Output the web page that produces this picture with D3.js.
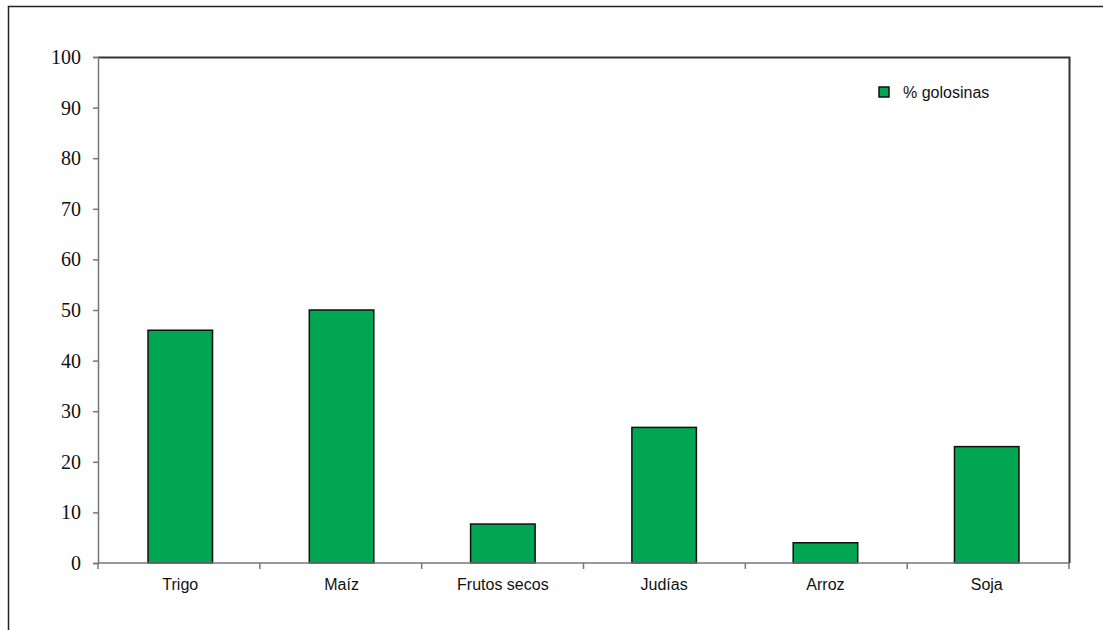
<!DOCTYPE html>
<html>
<head>
<meta charset="utf-8">
<script src="https://cdn.jsdelivr.net/npm/d3@7"></script>
<style>
  body { margin: 0; background: #fff; }
  svg { display: block; }
</style>
</head>
<body>
<svg width="1103" height="630"></svg>
<script>
// Bar chart: % golosinas per crop

var categories = ['Trigo', 'Maíz', 'Frutos secos', 'Judías', 'Arroz', 'Soja']
var values = [46, 50, 7.7, 26.8, 4, 23]
var yTicks = [0, 10, 20, 30, 40, 50, 60, 70, 80, 90, 100]
var seriesName = '% golosinas'

var svg = d3.select('svg')
// note: "top" is a window global, so use other names
var plotLeft = 98, plotRight = 1069, plotTop = 57, plotBottom = 563
var barColor = '#00a651'

// outer frame (only top and left edges visible)
svg.append('path')
	.attr('d', 'M8.5,630 V6.5 H1103')
	.attr('fill', 'none')
	.attr('stroke', '#222')
	.attr('stroke-width', 1.5)

var x = d3.scaleBand()
	.domain(categories)
	.range([plotLeft, plotRight])
	.paddingInner(0.6)
	.paddingOuter(0.31)

var y = d3.scaleLinear()
	.domain([0, 100])
	.range([plotBottom, plotTop])

// plot frame top + right
svg.append('path')
	.attr('d', 'M' + plotLeft + ',' + (plotTop + 0.5) + ' H' + (plotRight + 0.5) + ' V' + plotBottom)
	.attr('fill', 'none')
	.attr('stroke', '#333')
	.attr('stroke-width', 2)

// bars
svg.append('g')
	.selectAll('rect')
	.data(values)
	.enter()
	.append('rect')
	.attr('x', function(d, i) { return x(categories[i]) })
	.attr('y', function(d) { return y(d) })
	.attr('width', x.bandwidth())
	.attr('height', function(d) { return plotBottom - y(d) })
	.attr('fill', barColor)
	.attr('stroke', '#111')
	.attr('stroke-width', 1.5)

// y axis
var yAxis = svg.append('g')
	.attr('transform', 'translate(' + plotLeft + ',0)')
	.call(d3.axisLeft(y).tickValues(yTicks).tickSize(5).tickPadding(12))
yAxis.select('.domain').attr('stroke', '#777').attr('stroke-width', 1.5)
yAxis.selectAll('.tick line').attr('stroke', '#777').attr('stroke-width', 1.5)
yAxis.selectAll('.tick text')
	.attr('font-family', '"Liberation Serif", "Times New Roman", serif')
	.attr('font-size', 20)
	.attr('fill', '#111')

// x axis: ticks at category boundaries
var xAxis = svg.append('g')
	.attr('transform', 'translate(0,' + plotBottom + ')')
xAxis.append('line')
	.attr('x1', plotLeft).attr('x2', plotRight)
	.attr('stroke', '#777').attr('stroke-width', 1.5)
xAxis.selectAll('.bound')
	.data(d3.range(categories.length + 1))
	.enter()
	.append('line')
	.attr('x1', function(i) { return plotLeft + i * (plotRight - plotLeft) / categories.length })
	.attr('x2', function(i) { return plotLeft + i * (plotRight - plotLeft) / categories.length })
	.attr('y1', 0).attr('y2', 6)
	.attr('stroke', '#777').attr('stroke-width', 1.5)
xAxis.selectAll('.lbl')
	.data(categories)
	.enter()
	.append('text')
	.attr('x', function(d) { return x(d) + x.bandwidth() / 2 })
	.attr('y', 27)
	.attr('text-anchor', 'middle')
	.attr('font-family', '"Liberation Sans", Arial, sans-serif')
	.attr('font-size', 16)
	.attr('fill', '#111')
	.text(function(d) { return d })

// legend
var legend = svg.append('g').attr('transform', 'translate(879,87)')
legend.append('rect')
	.attr('width', 10).attr('height', 10)
	.attr('fill', barColor)
	.attr('stroke', '#111').attr('stroke-width', 1.5)
legend.append('text')
	.attr('x', 24).attr('y', 11)
	.attr('font-family', '"Liberation Sans", Arial, sans-serif')
	.attr('font-size', 16)
	.attr('fill', '#111')
	.text(seriesName)
</script>
</body>
</html>
